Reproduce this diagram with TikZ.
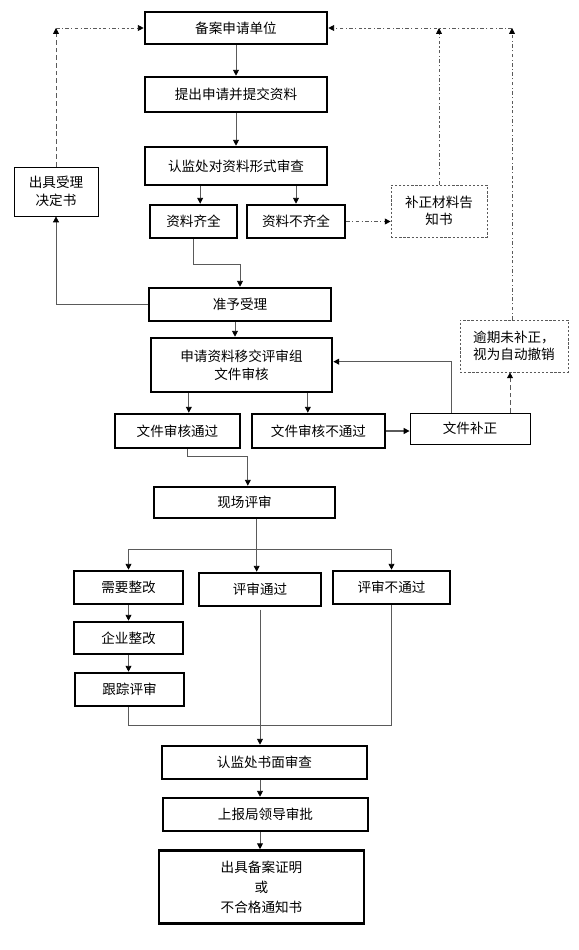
\documentclass[tikz,border=0pt]{standalone}
\usepackage{fontspec}
\setmainfont{Noto Sans CJK SC}
\usetikzlibrary{arrows.meta}
\definecolor{LineGray}{RGB}{90,90,90}

\begin{document}
\begin{tikzpicture}[
x=0.03cm,y=-0.03cm,
box/.style={rectangle,draw=black,line width=2.2pt,fill=white,inner sep=1pt,
minimum height=0.99cm,align=center,font=\fontsize{11.6}{15}\selectfont},
thinbox/.style={box,line width=0.7pt},
notebox/.style={box,line width=0.6pt,draw=LineGray,dash pattern=on 2pt off 1.5pt},
arrow/.style={-{Triangle[length=5pt,width=5pt,color=black]},line width=0.7pt,draw=LineGray},
line/.style={line width=0.7pt,draw=LineGray},
dashdot/.style={dash pattern=on 3pt off 2pt on 1pt off 2pt},
longdash/.style={dash pattern=on 4pt off 2.5pt}
]
\useasboundingbox (0,0) rectangle (578,950);

% filing and submission
\node[box,minimum width=5.46cm,minimum height=0.96cm] (unit) at (236,28) {备案申请单位};
\node[box,minimum width=5.46cm,minimum height=1.05cm] (submit) at (236,94.5) {提出申请并提交资料};
\node[box,minimum width=5.46cm,minimum height=1.14cm] (check) at (236,166) {认监处对资料形式审查};
\node[thinbox,minimum width=2.52cm,minimum height=1.47cm] (accept) at (56,191.5) {出具受理\\决定书};
\node[box,minimum width=2.61cm] (full) at (193.5,221.5) {资料齐全};
\node[box,minimum width=2.94cm] (lack) at (296,221.5) {资料不齐全};
\node[notebox,minimum width=2.88cm,minimum height=1.56cm] (notice) at (439,211) {补正材料告\\知书};
\node[box,minimum width=5.46cm] (admit) at (240,304.5) {准予受理};

% document review
\node[box,minimum width=5.43cm,minimum height=1.62cm] (review) at (241.5,365) {申请资料移交评审组\\文件审核};
\node[notebox,minimum width=3.24cm,minimum height=1.56cm,align=left] (expire) at (514,346) {逾期未补正，\\视为自动撤销};
\node[box,minimum width=3.75cm,minimum height=1.02cm] (docpass) at (177.5,431) {文件审核通过};
\node[box,minimum width=3.99cm,minimum height=1.02cm] (docfail) at (318.5,431) {文件审核不通过};
\node[thinbox,minimum width=3.6cm,minimum height=0.93cm] (amend) at (470,428.5) {文件补正};

% site review
\node[box,minimum width=5.43cm,minimum height=0.93cm] (site) at (244.5,502.5) {现场评审};
\node[box,minimum width=3.27cm] (rectify) at (128.5,587.5) {需要整改};
\node[box,minimum width=3.66cm] (pass) at (260,589.5) {评审通过};
\node[box,minimum width=3.51cm] (fail) at (391.5,587.5) {评审不通过};
\node[box,minimum width=3.27cm,minimum height=0.96cm] (corp) at (128.5,638) {企业整改};
\node[box,minimum width=3.27cm] (track) at (129.5,689.5) {跟踪评审};

% approval
\node[box,minimum width=6.15cm] (written) at (264.5,762.5) {认监处书面审查};
\node[box,minimum width=6.15cm] (report) at (265.5,814.5) {上报局领导审批};
\node[box,minimum width=6.15cm,minimum height=2.19cm] (issue) at (261.5,887)
{出具备案证明\\[2pt]或\\[2pt]不合格通知书};

\coordinate (lc) at (accept.north |- unit.west);
\coordinate (rc) at (512,0 |- unit.east);
\coordinate (bus) at (0,549);
\coordinate (merge) at (0,725);

% main flow
\draw[arrow] (unit) -- (submit);
\draw[arrow] (submit) -- (check);
\draw[arrow] ([xshift=2mm]full.north |- check.south) -- ([xshift=2mm]full.north);
\draw[arrow] (lack.north |- check.south) -- (lack.north);
\draw[arrow] (full.south) -- ++(0,25) -| (admit.north);
\draw[arrow] (admit.west) -| (accept.south);
\draw[arrow] ([xshift=-1.5mm]admit.south) -- ([xshift=-1.5mm]admit.south |- review.north);

% returns to the applicant
\draw[arrow,longdash] (accept.north) -- (lc);
\draw[arrow,dashdot] (lc) -- (unit.west);
\draw[arrow,dashdot] (lack.east) -- (notice.west |- lack.east);
\draw[arrow,dashdot] (notice.north) -- (notice.north |- unit.east);
\draw[arrow,dashdot] (expire.north -| rc) -- (rc);
\draw[arrow,dashdot] (rc) -- (unit.east);

% document review
\draw[arrow] ([xshift=3.4mm]docpass.north |- review.south) -- ([xshift=3.4mm]docpass.north);
\draw[arrow] ([xshift=-3.2mm]docfail.north |- review.south) -- ([xshift=-3.2mm]docfail.north);
\draw[arrow,line width=1.1pt] (docfail.east) -- (amend.west |- docfail.east);
\draw[arrow,line width=1.1pt] ([xshift=-5.5mm]amend.north) |- ([yshift=1mm]review.east);
\draw[arrow,longdash] ([xshift=12mm]amend.north) -- ([xshift=12mm]amend.north |- expire.south);
\draw[arrow] ([xshift=2.9mm]docpass.south) -- ++(0,7) -| ([xshift=1mm]site.north);

% site review branches
\draw[arrow] ([xshift=-1mm]pass.north |- site.south) -- ([xshift=-1mm]pass.north);
\draw[line] (rectify.north |- bus) -- (fail.north |- bus);
\draw[arrow] (rectify.north |- bus) -- (rectify.north);
\draw[arrow] (fail.north |- bus) -- (fail.north);
\draw[arrow] (rectify) -- (corp);
\draw[arrow] (corp.south -| rectify) -- (track.north -| rectify);

% merge and approval
\draw[line] (track.south -| rectify) -- (rectify |- merge) -- (fail |- merge) -- (fail.south);
\draw[line] ([yshift=-2pt]pass.south) -- (pass |- merge);
\draw[arrow] (pass |- merge) -- (written.north -| pass);
\draw[arrow] (written.south -| pass) -- (report.north -| pass);
\draw[arrow] (report.south -| pass) -- (issue.north -| pass);
\end{tikzpicture}
\end{document}
